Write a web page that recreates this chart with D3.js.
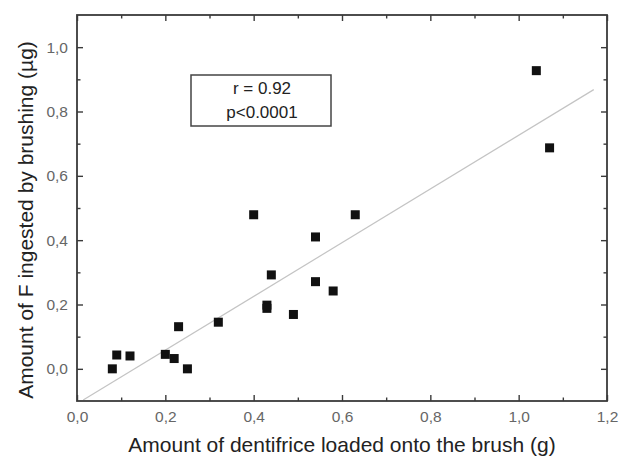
<!DOCTYPE html>
<html>
<head>
<meta charset="utf-8">
<script src="https://cdn.jsdelivr.net/npm/d3@7"></script>
<style>
  body { margin: 0; background: #fff; }
  svg { display: block; font-family: "Liberation Sans", Arial, sans-serif; }
</style>
</head>
<body>
<svg id="chart" width="622" height="463"></svg>
<script>
// dentifrice loaded (g) vs F ingested (µg)
const doseX = [0.08, 0.09, 0.12, 0.20, 0.22, 0.23, 0.25, 0.32, 0.40, 0.43, 0.43, 0.44, 0.49, 0.54, 0.54, 0.58, 0.63, 1.04, 1.07];
const ingestY = [0.00, 0.043, 0.04, 0.045, 0.032, 0.131, 0.00, 0.145, 0.479, 0.198, 0.188, 0.292, 0.169, 0.41, 0.271, 0.242, 0.479, 0.927, 0.687];

// regression line end points
const fitX = [0.014, 1.17];
const fitY = [-0.097, 0.868];

const xMajor = [0, 0.2, 0.4, 0.6, 0.8, 1.0, 1.2];
const xMinor = [0.1, 0.3, 0.5, 0.7, 0.9, 1.1];
const yMajor = [0, 0.2, 0.4, 0.6, 0.8, 1.0];
const yMinor = [0.1, 0.3, 0.5, 0.7, 0.9];

const statLines = ["r = 0.92", "p<0.0001"];

const svg = d3.select("#chart");
const plotLeft = 77, plotRight = 607, plotTop = 15, plotBottom = 401;

const x = d3.scaleLinear().domain([0, 1.2]).range([plotLeft, plotRight]);
const y = d3.scaleLinear().domain([-0.1, 1.1]).range([plotBottom, plotTop]);

const fmt = function(d) { return d3.format(".1f")(d).replace(".", ","); };
const frameColor = "#3a3a3a";

// fit line
svg.append("line")
    .attr("x1", x(fitX[0])).attr("y1", y(fitY[0]))
    .attr("x2", x(fitX[1])).attr("y2", y(fitY[1]))
    .attr("stroke", "#c4c4c4")
    .attr("stroke-width", 1.2);

// axes, ticks pointing inward on all four sides
function addAxis(axis, tx, ty, labels) {
    const g = svg.append("g")
        .attr("transform", "translate(" + tx + "," + ty + ")")
        .call(axis);
    g.select(".domain").remove();
    g.selectAll(".tick line").attr("stroke", frameColor).attr("stroke-width", 1.4);
    g.selectAll("text")
        .attr("fill", "#666")
        .style("font-size", "15.5px")
        .style("font-family", "'Liberation Sans', Arial, sans-serif");
    if (!labels) g.selectAll("text").remove();
    return g;
}

addAxis(d3.axisBottom(x).tickValues(xMajor).tickSize(-6).tickPadding(10).tickFormat(fmt), 0, plotBottom, true);
addAxis(d3.axisBottom(x).tickValues(xMinor).tickSize(-3.5), 0, plotBottom, false);
addAxis(d3.axisTop(x).tickValues(xMajor).tickSize(-6), 0, plotTop, false);
addAxis(d3.axisTop(x).tickValues(xMinor).tickSize(-3.5), 0, plotTop, false);
addAxis(d3.axisLeft(y).tickValues(yMajor).tickSize(-6).tickPadding(9).tickFormat(fmt), plotLeft, 0, true);
addAxis(d3.axisLeft(y).tickValues(yMinor).tickSize(-3.5), plotLeft, 0, false);
addAxis(d3.axisRight(y).tickValues(yMajor).tickSize(-6), plotRight, 0, false);
addAxis(d3.axisRight(y).tickValues(yMinor).tickSize(-3.5), plotRight, 0, false);

// frame
svg.append("rect")
    .attr("x", plotLeft).attr("y", plotTop)
    .attr("width", plotRight - plotLeft).attr("height", plotBottom - plotTop)
    .attr("fill", "none")
    .attr("stroke", frameColor)
    .attr("stroke-width", 1.8);

// points
svg.append("g").selectAll("rect")
    .data(doseX.map(function(d, i) { return [d, ingestY[i]]; }))
    .enter().append("rect")
    .attr("x", function(d) { return x(d[0]) - 4.5; })
    .attr("y", function(d) { return y(d[1]) - 4.5; })
    .attr("width", 9)
    .attr("height", 9)
    .attr("fill", "#111");

// stats box
svg.append("rect")
    .attr("x", 191).attr("y", 75)
    .attr("width", 140).attr("height", 51)
    .attr("fill", "#fff")
    .attr("stroke", "#444")
    .attr("stroke-width", 1.5);

svg.append("g").selectAll("text")
    .data(statLines)
    .enter().append("text")
    .attr("x", 262)
    .attr("y", function(d, i) { return 94 + i * 24; })
    .attr("text-anchor", "middle")
    .attr("fill", "#222")
    .style("font-size", "17px")
    .text(function(d) { return d; });

// axis titles
svg.append("text")
    .attr("x", (plotLeft + plotRight) / 2)
    .attr("y", 452)
    .attr("text-anchor", "middle")
    .attr("fill", "#222")
    .style("font-size", "21px")
    .text("Amount of dentifrice loaded onto the brush (g)");

svg.append("text")
    .attr("transform", "translate(33," + 220 + ") rotate(-90)")
    .attr("text-anchor", "middle")
    .attr("fill", "#222")
    .style("font-size", "21px")
    .text("Amount of F ingested by brushing (µg)");
</script>
</body>
</html>
